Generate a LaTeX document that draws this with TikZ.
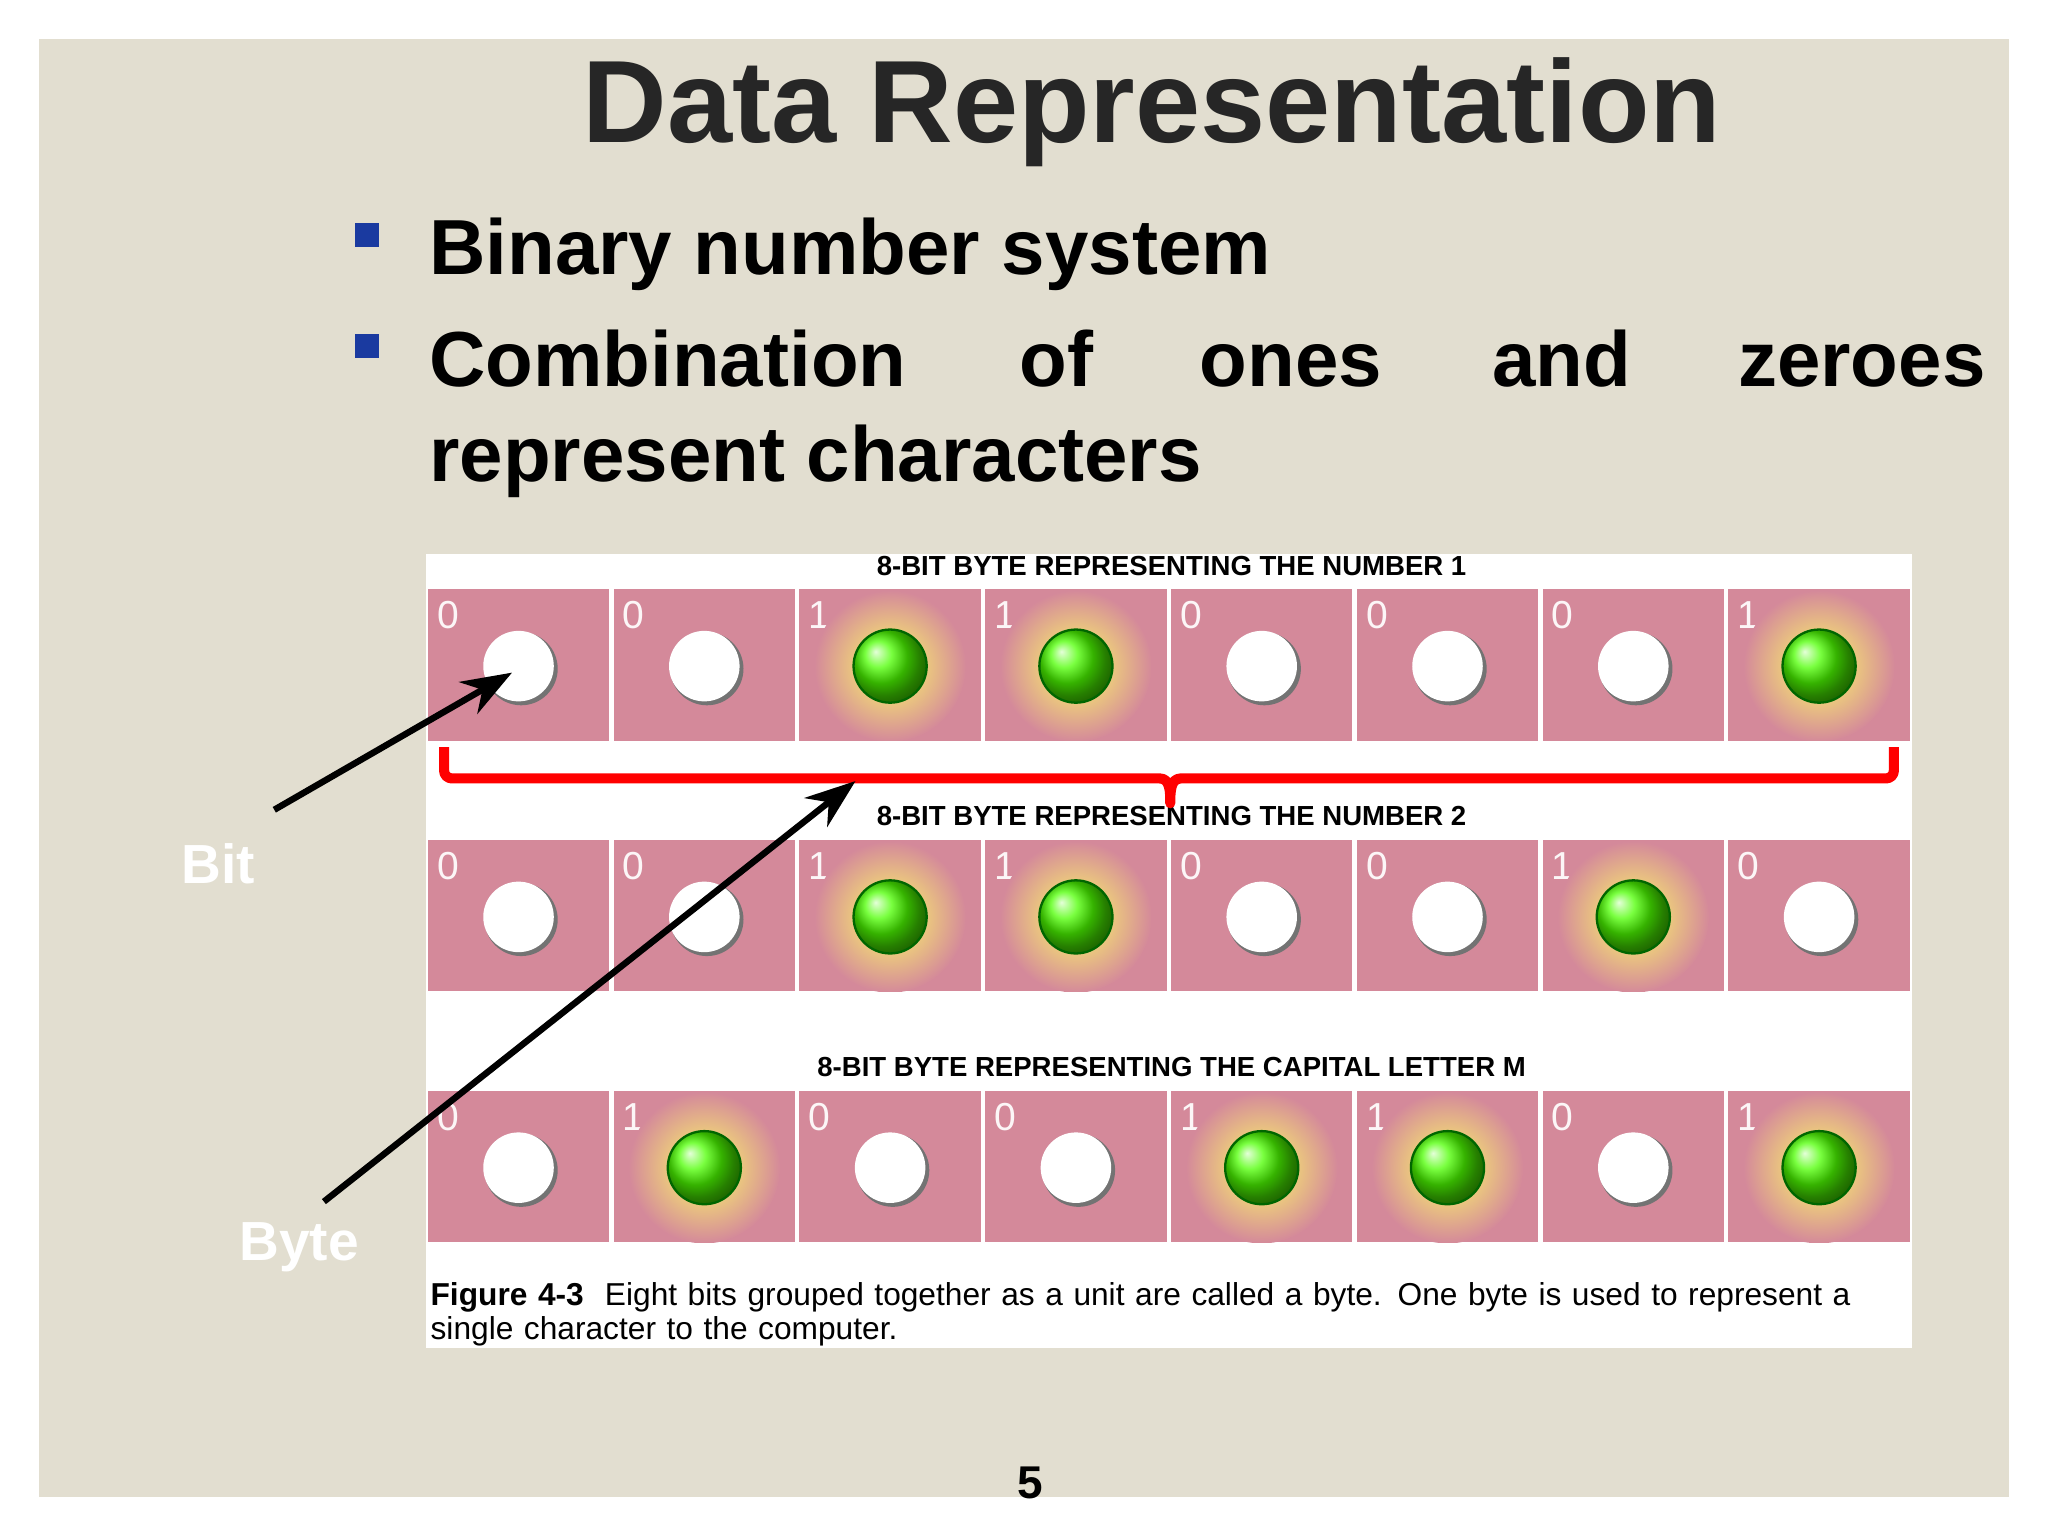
\documentclass[tikz,border=0pt]{standalone}
\usepackage{fontspec}
\setmainfont{Liberation Sans}
\usetikzlibrary{arrows.meta}
\definecolor{bg}{HTML}{E2DED0}
\definecolor{pk}{HTML}{D4899A}
\definecolor{bb}{HTML}{1A3AA0}
\begin{document}
\begin{tikzpicture}[x=0.01cm,y=-0.01cm,
  hdr/.style={font=\bfseries\fontsize{6}{7}\selectfont,anchor=center},
  dig/.style={font=\fontsize{8.5}{10}\selectfont,text=white!92!pk,anchor=center},
  bul/.style={font=\bfseries\fontsize{17}{21}\selectfont,anchor=base west,inner sep=0},
  arr/.style={-{Stealth[length=11pt,width=8pt]},line width=1.4pt}]
\useasboundingbox (0,0) rectangle (1568,1176);
\fill[white] (0,0) rectangle (1568,1176);
\fill[bg] (30,30) rectangle (1538,1146);
\node[font=\bfseries\fontsize{25.5}{30}\selectfont,text=black!85] (title) at (882,86) {Data Representation};
\foreach \y in {180,265}{\fill[bb] (272,\y-9) rectangle (290,\y+9);}
\node[bul] (b1) at (328,210) {Binary number system};
\node[bul] (w1) at (328,296) {Combination};
\node[bul] (w2) at (780,296) {of};
\node[bul] (w3) at (918,296) {ones};
\node[bul] (w4) at (1142,296) {and};
\node[bul] (w5) at (1330,296) {zeroes};
\node[bul] (b3) at (328,369) {represent characters};
\fill[white] (326,424) rectangle (1464,1032);
\node[hdr] (h1) at (897,433) {8-BIT BYTE REPRESENTING THE NUMBER 1};
\node[hdr] (h2) at (897,625) {8-BIT BYTE REPRESENTING THE NUMBER 2};
\node[hdr] (h3) at (897,817) {8-BIT BYTE REPRESENTING THE CAPITAL LETTER M};
\foreach \row/\yt/\bits in {1/451/{0,0,1,1,0,0,0,1},2/643/{0,0,1,1,0,0,1,0},3/835/{0,1,0,0,1,1,0,1}}{
  \foreach \b [count=\i from 0] in \bits {
    \pgfmathsetmacro\xl{326+142.25*\i}
    \fill[pk] (\xl+1.5,\yt) rectangle (\xl+140.5,\yt+116);
    \node[dig] at (\xl+17,\yt+20) {\b};
    \ifnum\b=1
      \begin{scope}
      \clip (\xl+1.5,\yt) rectangle (\xl+140.5,\yt+116);
      \shade[inner color=yellow!60!white,outer color=pk] (\xl+71,\yt+59) circle (58);
      \end{scope}
      \shade[ball color=green!70!yellow] (\xl+71,\yt+59) circle (28);
      \draw[green!40!black,line width=0.5pt] (\xl+71,\yt+59) circle (28);
    \else
      \fill[black!55] (\xl+73,\yt+61) circle (28);
      \fill[white] (\xl+71,\yt+59) circle (27);
    \fi
  }
}
\draw[red,line width=2.2pt,line join=round] (340,572) -- (340,590) to[out=-90,in=180] (346,596) -- (888,596) to[out=0,in=90] (896,615) to[out=90,in=180] (904,596) -- (1444,596) to[out=0,in=-90] (1450,590) -- (1450,572);
\node[font=\bfseries\fontsize{12}{14}\selectfont,text=white] (bit) at (167,661) {Bit};
\node[font=\bfseries\fontsize{12}{14}\selectfont,text=white] (byte) at (229,955) {Byte};
\coordinate (bs) at (210,620); \coordinate (be) at (392,515);
\coordinate (ys) at (248,920); \coordinate (ye) at (655,598);
\draw[arr] (bs) -- (be);
\draw[arr] (ys) -- (ye);
\node[anchor=north west,align=left,text width=10.9cm,font=\fontsize{6.9}{7.4}\selectfont,inner sep=0] (cap) at (329,981) {\textbf{Figure 4-3}\ \ Eight bits grouped together as a unit are called a byte. One byte is used to represent a single character to the computer.};
\node[font=\bfseries\fontsize{10}{12}\selectfont] (pg) at (789,1135) {5};
\end{tikzpicture}
\end{document}
